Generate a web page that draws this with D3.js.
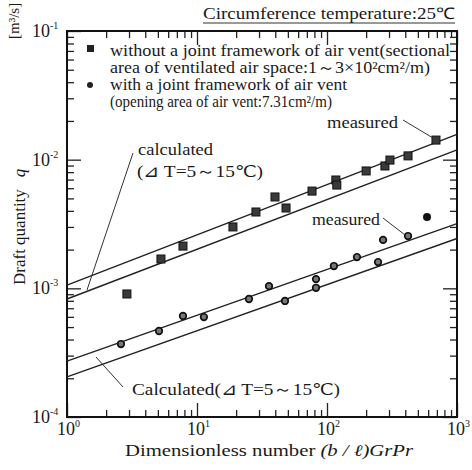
<!DOCTYPE html>
<html><head><meta charset="utf-8">
<script src="https://cdn.jsdelivr.net/npm/d3@7"></script>
<style>
html,body{margin:0;padding:0;background:#fff;}
svg{font-family:"Liberation Serif","Times New Roman",serif;}
svg text{fill:#1a1a1a;}
</style></head>
<body><svg id="c" width="472" height="470"></svg>
<script>
// ---- data ----
const squareX = [2.89, 5.28, 7.80, 18.9, 28.4, 39.8, 48.4, 76.7, 117, 119, 200, 279, 305, 420, 689];
const squareY = [9.04e-4, 1.69e-3, 2.13e-3, 3.00e-3, 3.92e-3, 5.13e-3, 4.21e-3, 5.70e-3, 6.95e-3, 6.35e-3, 8.17e-3, 8.93e-3, 9.93e-3, 1.07e-2, 1.42e-2];
const circleX = [2.60, 5.10, 7.80, 11.3, 25.1, 35.8, 47.5, 82.3, 82.3, 113, 170, 247, 270, 420];
const circleY = [3.69e-4, 4.66e-4, 6.10e-4, 5.98e-4, 8.26e-4, 1.04e-3, 7.98e-4, 1.18e-3, 1.01e-3, 1.49e-3, 1.75e-3, 1.60e-3, 2.38e-3, 2.55e-3];
const solidCircleX = [588];
const solidCircleY = [3.58e-3];
const lineX = [1, 1000];
const calcSquareUpper = [1.06e-3, 1.57e-2];
const calcSquareLower = [8.26e-4, 1.19e-2];
const calcCircleUpper = [2.72e-4, 3.18e-3];
const calcCircleLower = [2.05e-4, 2.44e-3];
const xMajor = [1, 10, 100, 1000];
const xMajorExp = ["0", "1", "2", "3"];
const yMajor = [1e-4, 1e-3, 1e-2, 1e-1];
const yMajorExp = ["-4", "-3", "-2", "-1"];

const FONT = "'Liberation Serif','Times New Roman',serif";
const svg = d3.select("#c");
const x = d3.scaleLog().domain([1, 1000]).range([67, 457]);
const y = d3.scaleLog().domain([1e-4, 1e-1]).range([417, 31]);
const L = 67, R = 457, T = 31, B = 417;

function minors(dom){
  const out = [];
  for (let d = dom[0]; d < dom[1]; d *= 10) for (let k = 2; k <= 9; k++) out.push(d * k);
  return out;
}
const xMinor = minors([1, 1000]);
const yMinor = minors([1e-4, 1e-1]);

function axisG(axis, tx, ty){
  const g = svg.append("g").attr("transform", `translate(${tx},${ty})`).call(axis);
  g.select(".domain").remove();
  g.selectAll("text").remove();
  g.selectAll("line").attr("stroke", "#222").attr("stroke-width", 1.3);
  return g;
}
const mn = 7, mj = 14;
axisG(d3.axisBottom(x).tickValues(xMinor).tickSize(-mn), 0, B);
axisG(d3.axisBottom(x).tickValues(xMajor).tickSize(-mj), 0, B);
axisG(d3.axisTop(x).tickValues(xMinor).tickSize(-mn), 0, T);
axisG(d3.axisTop(x).tickValues(xMajor).tickSize(-mj), 0, T);
axisG(d3.axisLeft(y).tickValues(yMinor).tickSize(-mn), L, 0);
axisG(d3.axisLeft(y).tickValues(yMajor).tickSize(-mj), L, 0);
axisG(d3.axisRight(y).tickValues(yMinor).tickSize(-mn), R, 0);
axisG(d3.axisRight(y).tickValues(yMajor).tickSize(-mj), R, 0);

svg.append("rect").attr("x", L).attr("y", T).attr("width", R - L).attr("height", B - T)
  .attr("fill", "none").attr("stroke", "#111").attr("stroke-width", 2);

function txt(xp, yp, size, s, len){
  const t = svg.append("text").attr("x", xp).attr("y", yp).attr("font-size", size)
    .attr("font-family", FONT).text(s);
  if (len) t.attr("textLength", len).attr("lengthAdjust", "spacingAndGlyphs");
  return t;
}

// tick labels
xMajor.forEach((v, i) => {
  const t = svg.append("text").attr("x", x(v) - 10).attr("y", 435).attr("font-size", 18).attr("font-family", FONT);
  t.append("tspan").text("10");
  t.append("tspan").attr("dy", -8).attr("font-size", 10).text(xMajorExp[i]);
});
yMajor.forEach((v, i) => {
  const t = svg.append("text").attr("x", 32).attr("y", y(v) + 6).attr("font-size", 18).attr("font-family", FONT);
  t.append("tspan").text("10");
  t.append("tspan").attr("dy", -8).attr("font-size", 10).text(yMajorExp[i]);
});

// calculated lines
const line = d3.line().x(d => x(d[0])).y(d => y(d[1]));
[calcSquareUpper, calcSquareLower, calcCircleUpper, calcCircleLower].forEach(s => {
  svg.append("path").attr("d", line(lineX.map((xv, i) => [xv, s[i]])))
    .attr("fill", "none").attr("stroke", "#222").attr("stroke-width", 1.4);
});

// points
svg.selectAll("rect.sq").data(squareX.map((v, i) => [v, squareY[i]])).enter()
  .append("rect").attr("class", "sq")
  .attr("x", d => x(d[0]) - 4).attr("y", d => y(d[1]) - 4)
  .attr("width", 8).attr("height", 8)
  .attr("fill", "#3a3a3a").attr("stroke", "#111").attr("stroke-width", 1);
svg.selectAll("circle.ci").data(circleX.map((v, i) => [v, circleY[i]])).enter()
  .append("circle").attr("class", "ci")
  .attr("cx", d => x(d[0])).attr("cy", d => y(d[1])).attr("r", 3.3)
  .attr("fill", "#777").attr("stroke", "#111").attr("stroke-width", 1.7);
svg.selectAll("circle.cs").data(solidCircleX.map((v, i) => [v, solidCircleY[i]])).enter()
  .append("circle").attr("class", "cs")
  .attr("cx", d => x(d[0])).attr("cy", d => y(d[1])).attr("r", 4)
  .attr("fill", "#111");

// title
txt(203, 19, 16, "Circumference temperature:25℃", 252);
svg.append("line").attr("x1", 203).attr("x2", 455).attr("y1", 23).attr("y2", 23)
  .attr("stroke", "#333").attr("stroke-width", 1);

// legend
svg.append("rect").attr("x", 87).attr("y", 45).attr("width", 7).attr("height", 7).attr("fill", "#222");
svg.append("circle").attr("cx", 90).attr("cy", 85).attr("r", 3).attr("fill", "#222");
txt(110, 56, 16, "without a joint framework of air vent(sectional", 340);
txt(110, 73, 16, "area of ventilated air space:1～3×10²cm²/m)", 320);
txt(110, 90, 16, "with a joint framework of air vent", 237);
txt(110, 107, 16, "(opening area of air vent:7.31cm²/m)", 222);

// annotations
function seg(x1, y1, x2, y2){
  svg.append("line").attr("x1", x1).attr("y1", y1).attr("x2", x2).attr("y2", y2)
    .attr("stroke", "#333").attr("stroke-width", 1);
}
txt(138, 155, 17, "calculated", 75);
txt(137, 177, 17, "(⊿ T=5～15℃)", 126);
seg(133, 153, 87, 290);
txt(327, 128, 16, "measured", 71);
seg(403, 120, 433, 138);
txt(312, 225, 16, "measured", 68);
seg(383, 218, 405, 235);
txt(132, 395, 17, "Calculated(⊿ T=5～15℃)", 208);
seg(123, 387, 96, 357);

// axis titles
const xt = svg.append("text").attr("x", 125).attr("y", 456).attr("font-size", 16).attr("font-family", FONT)
  .attr("textLength", 288).attr("lengthAdjust", "spacingAndGlyphs");
xt.append("tspan").text("Dimensionless number  ");
xt.append("tspan").attr("font-style", "italic").text("(b / ℓ)GrPr");
const yt = svg.append("text").attr("transform", "translate(25,285) rotate(-90)").attr("font-size", 17).attr("font-family", FONT);
yt.append("tspan").text("Draft quantity");
yt.append("tspan").attr("dx", 12).attr("font-style", "italic").text("q");
svg.append("text").attr("transform", "translate(19,39) rotate(-90)").attr("font-size", 15).attr("font-family", FONT).text("[m³/s]");
</script></body></html>
